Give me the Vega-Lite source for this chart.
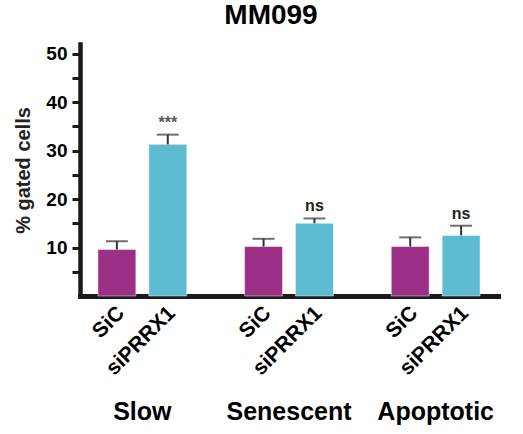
{
  "$schema": "https://vega.github.io/schema/vega-lite/v6.json",
  "width": 418,
  "height": 252,
  "autosize": {"type": "none"},
  "padding": {"left": 80, "top": 44, "right": 25, "bottom": 138},
  "background": "white",
  "title": {"text": "MM099", "font": "Liberation Sans", "fontSize": 28, "fontWeight": "bold", "color": "black", "anchor": "middle", "dx": -18, "offset": 14},
  "config": {"view": {"stroke": null}, "font": "Liberation Sans"},
  "resolve": {"axis": {"x": "independent", "y": "independent"}},
  "data": {"values": [
    {"group": "Slow", "cond": "SiC", "value": 9.6, "upper": 11.3, "sig": ""},
    {"group": "Slow", "cond": "siPRRX1", "value": 31.3, "upper": 33.3, "sig": "***"},
    {"group": "Senescent", "cond": "SiC", "value": 10.2, "upper": 11.8, "sig": ""},
    {"group": "Senescent", "cond": "siPRRX1", "value": 15.0, "upper": 16.0, "sig": "ns"},
    {"group": "Apoptotic", "cond": "SiC", "value": 10.2, "upper": 12.1, "sig": ""},
    {"group": "Apoptotic", "cond": "siPRRX1", "value": 12.5, "upper": 14.5, "sig": "ns"}
  ]},
  "layer": [
    {
      "mark": {"type": "bar", "stroke": "white", "strokeWidth": 0.8, "strokeOpacity": 0.6},
      "encoding": {
        "x": {"field": "group", "type": "nominal", "sort": ["Slow", "Senescent", "Apoptotic"],
              "scale": {"paddingInner": 0.306, "paddingOuter": 0.078},
              "axis": {"title": null, "labelAngle": 0, "labelFontSize": 25, "labelFontWeight": "bold", "labelColor": "black",
                       "labelPadding": 103, "ticks": false, "domainColor": "#1a1a1a", "domainWidth": 5, "domainCap": "square"}},
        "xOffset": {"field": "cond", "type": "nominal", "sort": ["SiC", "siPRRX1"], "scale": {"paddingInner": 0.255, "paddingOuter": 0.1275}},
        "y": {"field": "value", "type": "quantitative", "scale": {"domain": [0, 52], "nice": false},
              "axis": {"title": "% gated cells", "titleFontSize": 20, "titleFontWeight": "bold", "titleColor": "#222", "titlePadding": 12,
                       "values": [5, 10, 15, 20, 25, 30, 35, 40, 45, 50],
                       "labelExpr": "datum.value % 10 === 0 ? datum.label : ''",
                       "labelOverlap": false,
                       "labelFontSize": 19, "labelFontWeight": "bold", "labelColor": "black", "labelPadding": 5,
                       "tickSize": 8, "tickWidth": 3, "tickColor": "#1a1a1a", "grid": false,
                       "domainColor": "#1a1a1a", "domainWidth": 4.5, "domainCap": "square"}},
        "color": {"field": "cond", "type": "nominal", "scale": {"domain": ["SiC", "siPRRX1"], "range": ["#9c2f86", "#5cbbd1"]}, "legend": null}
      }
    },
    {
      "mark": {"type": "rule", "color": "#333", "strokeWidth": 2},
      "encoding": {
        "x": {"field": "group", "type": "nominal", "sort": ["Slow", "Senescent", "Apoptotic"], "axis": null},
        "xOffset": {"field": "cond", "type": "nominal", "sort": ["SiC", "siPRRX1"]},
        "y": {"field": "value", "type": "quantitative", "axis": null},
        "y2": {"field": "upper"}
      }
    },
    {
      "mark": {"type": "tick", "color": "#333", "thickness": 2, "size": 22, "orient": "horizontal"},
      "encoding": {
        "x": {"field": "group", "type": "nominal", "sort": ["Slow", "Senescent", "Apoptotic"], "axis": null},
        "xOffset": {"field": "cond", "type": "nominal", "sort": ["SiC", "siPRRX1"]},
        "y": {"field": "upper", "type": "quantitative", "axis": null}
      }
    },
    {
      "mark": {"type": "text", "baseline": "bottom", "dy": -4, "fontSize": 16, "fontWeight": "bold"},
      "encoding": {
        "x": {"field": "group", "type": "nominal", "sort": ["Slow", "Senescent", "Apoptotic"], "axis": null},
        "xOffset": {"field": "cond", "type": "nominal", "sort": ["SiC", "siPRRX1"]},
        "y": {"field": "upper", "type": "quantitative", "axis": null},
        "text": {"field": "sig"},
        "color": {"condition": {"test": "datum.sig === '***'", "value": "#555"}, "value": "#222"}
      }
    },
    {
      "mark": {"type": "text", "angle": 315, "align": "right", "baseline": "middle", "dx": -7, "dy": 13, "fontSize": 21, "fontWeight": "bold", "color": "black"},
      "encoding": {
        "x": {"field": "group", "type": "nominal", "sort": ["Slow", "Senescent", "Apoptotic"], "axis": null},
        "xOffset": {"field": "cond", "type": "nominal", "sort": ["SiC", "siPRRX1"]},
        "y": {"datum": 0, "type": "quantitative", "axis": null},
        "text": {"field": "cond"}
      }
    }
  ]
}
